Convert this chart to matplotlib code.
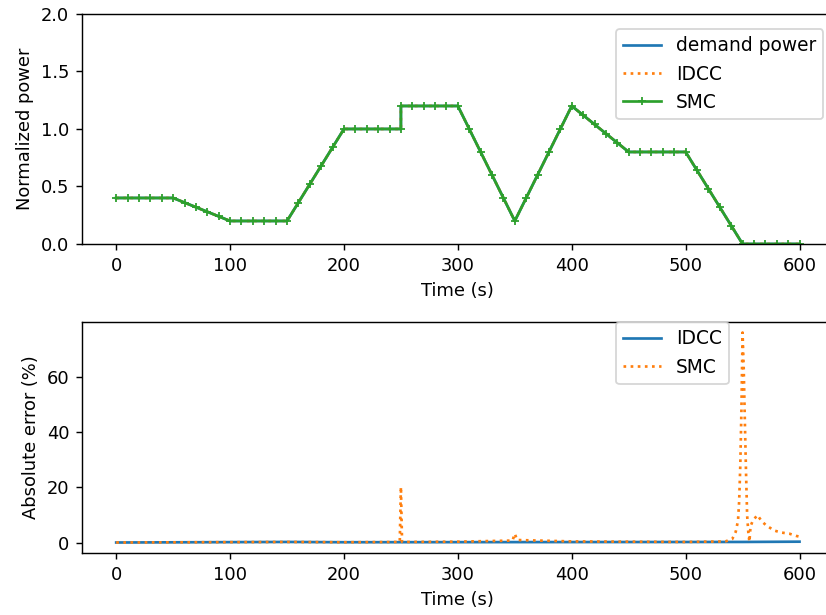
import matplotlib
matplotlib.use('Agg')
import matplotlib.pyplot as plt

# demand profile (breakpoints, s / normalized power)
t_dem = [0, 50, 100, 150, 200, 250, 250, 300, 350, 400, 450, 500, 550, 600]
p_dem = [0.4, 0.4, 0.2, 0.2, 1.0, 1.0, 1.2, 1.2, 0.2, 1.2, 0.8, 0.8, 0.0, 0.0]

# SMC output, sampled every 10 s
t_smc = [0, 10, 20, 30, 40, 50, 60, 70, 80, 90, 100, 110, 120, 130, 140, 150,
         160, 170, 180, 190, 200, 210, 220, 230, 240, 250, 250, 260, 270, 280,
         290, 300, 310, 320, 330, 340, 350, 360, 370, 380, 390, 400, 410, 420,
         430, 440, 450, 460, 470, 480, 490, 500, 510, 520, 530, 540, 550, 560,
         570, 580, 590, 600]
p_smc = [0.4, 0.4, 0.4, 0.4, 0.4, 0.4, 0.36, 0.32, 0.28, 0.24, 0.2, 0.2, 0.2,
         0.2, 0.2, 0.2, 0.36, 0.52, 0.68, 0.84, 1.0, 1.0, 1.0, 1.0, 1.0, 1.0,
         1.2, 1.2, 1.2, 1.2, 1.2, 1.2, 1.0, 0.8, 0.6, 0.4, 0.2, 0.4, 0.6, 0.8,
         1.0, 1.2, 1.12, 1.04, 0.96, 0.88, 0.8, 0.8, 0.8, 0.8, 0.8, 0.8, 0.64,
         0.48, 0.32, 0.16, 0.0, 0.0, 0.0, 0.0, 0.0, 0.0]

# absolute errors (%)
t_err_idcc = [0, 150, 200, 550, 600]
e_idcc = [0.1, 0.3, 0.2, 0.3, 0.4]

t_err_smc = [0, 150, 200, 249, 250, 251, 300, 348, 350, 352, 400, 500, 535,
             541, 544, 546, 547, 548, 549, 550, 551, 552, 553, 554, 555, 556,
             557, 559, 563, 567, 571, 578, 584, 591, 597, 600]
e_smc = [0.1, 0.3, 0.2, 0.3, 20.2, 0.3, 0.4, 0.8, 3.3, 1.0, 0.5, 0.3, 0.5,
         1.4, 4, 8, 15, 28, 48, 76, 63, 44, 26, 10, 4, 0.4, 6, 8, 10, 7.7,
         6.2, 4.4, 3.7, 3.3, 2.5, 2.2]

xt = [0, 100, 200, 300, 400, 500, 600]

dpi = 129
fig = plt.figure(figsize=(826 / dpi, 615 / dpi), dpi=dpi)
ax1 = fig.add_axes([0.0993, 0.6033, 0.910, 0.374])
ax2 = fig.add_axes([0.0993, 0.1008, 0.910, 0.3756])

ax1.plot(t_dem, p_dem, '-', label='demand power')
ax1.plot(t_dem, p_dem, ':', label='IDCC')
ax1.plot(t_smc, p_smc, '-', marker='+', ms=4, label='SMC')
ax1.set_ylim(0, 2.0)
ax1.set_yticks([0.0, 0.5, 1.0, 1.5, 2.0])
ax1.set_xticks(xt)
ax1.set_xlabel('Time (s)')
ax1.set_ylabel('Normalized power')
ax1.legend(loc='upper left', bbox_to_anchor=(0.7104, 0.935), borderaxespad=0,
           fontsize=10.4)

ax2.plot(t_err_idcc, e_idcc, '-', label='IDCC')
ax2.plot(t_err_smc, e_smc, ':', label='SMC')
ax2.set_xticks(xt)
ax2.set_xlabel('Time (s)')
ax2.set_ylabel('Absolute error (%)')
ax2.legend(loc='upper left', bbox_to_anchor=(0.7104, 1.0), borderaxespad=0,
           fontsize=10.4)

fig.savefig('out.png', dpi=dpi)
